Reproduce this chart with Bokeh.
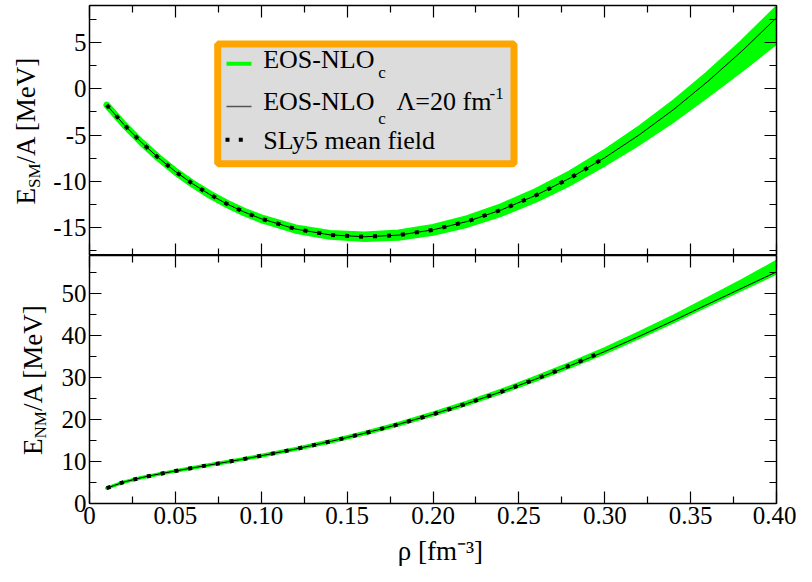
import math
from bokeh.plotting import figure
from bokeh.layouts import column, row
from bokeh.models import (Range1d, LinearAxis, FixedTicker, BoxAnnotation, Label,
                          CustomJSTickFormatter)
from bokeh.core.properties import value
from bokeh.embed import file_html
from bokeh.resources import INLINE

# ---------------- data ----------------
rho = [0.01, 0.02, 0.03, 0.04, 0.05, 0.06, 0.07, 0.08, 0.09, 0.10,
       0.12, 0.14, 0.16, 0.18, 0.20, 0.22, 0.24, 0.26, 0.28, 0.30,
       0.32, 0.34, 0.36, 0.38, 0.40]

# symmetric matter, EOS-NLOc Lambda=20 fm^-1 (black line)
esm_nlo = [-1.75, -3.85, -5.74, -7.43, -8.93, -10.25, -11.41, -12.43, -13.30, -14.03,
           -15.14, -15.77, -15.98, -15.80, -15.23, -14.32, -13.06, -11.49, -9.62, -7.44,
           -4.98, -2.25, 0.80, 4.10, 7.68]
# EOS-NLOc band (green)
esm_hi = [-1.70, -3.79, -5.66, -7.34, -8.83, -10.14, -11.29, -12.30, -13.16, -13.88,
          -14.96, -15.56, -15.73, -15.52, -14.91, -13.96, -12.65, -11.03, -9.10, -6.84,
          -4.32, -1.53, 1.58, 4.95, 8.60]
esm_lo = [-1.80, -3.91, -5.82, -7.52, -9.03, -10.36, -11.53, -12.56, -13.44, -14.18,
          -15.32, -15.98, -16.23, -16.08, -15.55, -14.68, -13.47, -11.95, -10.14, -8.04,
          -5.78, -3.30, -0.60, 2.20, 5.13]

# SLy5 mean field (dotted), up to rho = 0.30
rho_sly5 = [0.01, 0.02, 0.03, 0.04, 0.05, 0.06, 0.07, 0.08, 0.09, 0.10,
            0.12, 0.14, 0.16, 0.18, 0.20, 0.22, 0.24, 0.26, 0.28, 0.30]
esm_sly5 = [-1.75, -3.85, -5.74, -7.43, -8.93, -10.25, -11.41, -12.43, -13.30, -14.03,
            -15.14, -15.77, -15.98, -15.80, -15.23, -14.32, -13.06, -11.49, -9.62, -7.44]

# neutron matter
enm_nlo = [3.65, 5.10, 6.13, 6.98, 7.74, 8.46, 9.17, 9.87, 10.60, 11.35,
           12.96, 14.73, 16.69, 18.85, 21.22, 23.81, 26.61, 29.62, 32.80, 36.15,
           39.75, 43.50, 47.40, 51.25, 55.10]
enm_hi = [3.70, 5.15, 6.19, 7.05, 7.82, 8.55, 9.27, 9.98, 10.72, 11.48,
          13.12, 14.92, 16.91, 19.11, 21.52, 24.17, 27.03, 30.12, 33.40, 36.87,
          40.65, 44.60, 48.80, 53.10, 57.60]
enm_lo = [3.60, 5.05, 6.07, 6.91, 7.66, 8.37, 9.07, 9.77, 10.50, 11.25,
          12.84, 14.59, 16.53, 18.67, 21.02, 23.59, 26.37, 29.36, 32.52, 35.85,
          39.45, 43.20, 47.10, 50.95, 54.80]
enm_sly5 = [3.65, 5.10, 6.13, 6.98, 7.74, 8.46, 9.17, 9.87, 10.60, 11.35,
            12.96, 14.73, 16.69, 18.85, 21.22, 23.81, 26.61, 29.62, 32.86, 36.32]

# ticks
x_ticks = [0.0, 0.05, 0.10, 0.15, 0.20, 0.25, 0.30, 0.35, 0.40]
x_tick_labels = ["0", "0.05", "0.10", "0.15", "0.20", "0.25", "0.30", "0.35", "0.40"]
x_minor = [0.025, 0.075, 0.125, 0.175, 0.225, 0.275, 0.325, 0.375]
ysm_ticks = [-15, -10, -5, 0, 5]
ysm_minor = [-17.5, -12.5, -7.5, -2.5, 2.5, 7.5]
ynm_ticks = [0, 10, 20, 30, 40, 50]
ynm_minor = [5, 15, 25, 35, 45, 55]

# ---------------- styling / layout ----------------
FONT = "Liberation Serif"
GREEN = "#00ff00"
TOTAL_W, TOTAL_H = 796, 566
STRIP_W = 50                      # strip holding the vertical axis titles
PW = TOTAL_W - STRIP_W            # width of the two panels
FL, FW = 38, 687                  # frame left border and frame width
TOP_B, TOP_H = 5, 250             # panel 1: top border, frame height
BOT_H, BOT_B = 248, 32            # panel 2: frame height, bottom border
XSTRIP_H = TOTAL_H - (TOP_B + TOP_H) - (BOT_H + BOT_B)
TICK_PX = "25px"
MID = 0.3375                      # baseline offset below a text's middle, in em


def make_axis(ticker, labels, formatter=None):
    ax = LinearAxis(ticker=ticker)
    ax.axis_line_color = "black"
    ax.axis_line_width = 1.5
    ax.major_tick_in = 12
    ax.major_tick_out = 0
    ax.minor_tick_in = 7
    ax.minor_tick_out = 0
    ax.major_tick_line_color = "black"
    ax.minor_tick_line_color = "black"
    ax.major_tick_line_width = 1.2
    ax.minor_tick_line_width = 1.2
    if labels:
        ax.formatter = formatter
        ax.major_label_text_font = FONT
        ax.major_label_text_font_size = TICK_PX
        ax.major_label_text_color = "black"
        ax.major_label_standoff = 3
    else:
        ax.formatter = CustomJSTickFormatter(code="return ''")
        ax.major_label_text_font_size = "0px"
        ax.major_label_standoff = 0
    return ax


def make_panel(yr, frame_h, top_b, bot_b):
    p = figure(frame_width=FW, frame_height=frame_h,
               x_range=Range1d(0, 0.4), y_range=yr,
               x_axis_location=None, y_axis_location=None,
               output_backend="svg", toolbar_location=None,
               min_border_left=FL, min_border_right=PW - FL - FW,
               min_border_top=top_b, min_border_bottom=bot_b)
    p.grid.visible = False
    p.outline_line_color = "black"
    p.background_fill_color = "white"
    p.border_fill_color = "white"
    return p


def make_strip(w, h):
    s = figure(width=w, height=h, x_range=Range1d(0, w), y_range=Range1d(0, h),
               x_axis_location=None, y_axis_location=None,
               output_backend="svg", toolbar_location=None,
               min_border_left=0, min_border_right=0,
               min_border_top=0, min_border_bottom=0)
    s.grid.visible = False
    s.outline_line_color = None
    s.background_fill_color = "white"
    s.border_fill_color = "white"
    return s


def put_text(s, x, y, txt, size_px, vertical=False, align="left"):
    """x, y: text anchor on its baseline (strip pixels, y up)."""
    off = MID * size_px
    if vertical:
        ax_, ay_, ang = x - off, y, math.pi / 2
    else:
        ax_, ay_, ang = x, y + off, 0.0
    s.text(x=[ax_], y=[ay_], text=[txt], angle=ang,
           text_font=value(FONT), text_font_size=value(f"{size_px}px"),
           text_color="black", text_align=align, text_baseline="middle")


def legend_label(p, txt, x, y, size_px):
    """x, y: start of the text on its baseline (frame pixels, y up)."""
    p.add_layout(Label(x=x, y=y + MID * size_px, x_units="screen", y_units="screen",
                       text=txt, text_font=FONT, text_font_size=f"{size_px}px",
                       text_color="black", text_align="left", text_baseline="middle"))


def screen_box(p, l, r, b, t, fill, line=None, lw=0):
    p.add_layout(BoxAnnotation(left=l, right=r, bottom=b, top=t,
                               left_units="screen", right_units="screen",
                               top_units="screen", bottom_units="screen",
                               fill_color=fill, fill_alpha=1.0,
                               line_color=line, line_alpha=1.0 if line else 0.0,
                               line_width=lw))


xfmt = CustomJSTickFormatter(args=dict(vals=x_ticks, labs=x_tick_labels), code="""
const i = vals.findIndex(v => Math.abs(v - tick) < 1e-9);
return i >= 0 ? labs[i] : '';
""")
yfmt1 = CustomJSTickFormatter(code="return String(tick);")
yfmt2 = CustomJSTickFormatter(code="return String(tick);")

# ---------------- top panel: symmetric matter ----------------
p1 = make_panel(Range1d(-18, 9), TOP_H, TOP_B, 0)
xt1 = FixedTicker(ticks=x_ticks, minor_ticks=x_minor)
yt1 = FixedTicker(ticks=ysm_ticks, minor_ticks=ysm_minor)
p1.add_layout(make_axis(yt1, True, yfmt1), "left")
p1.add_layout(make_axis(yt1, False), "right")
p1.add_layout(make_axis(xt1, False), "above")
p1.add_layout(make_axis(xt1, False), "below")

p1.varea(x=rho, y1=esm_lo, y2=esm_hi, fill_color=GREEN)
p1.line(rho, esm_hi, line_color=GREEN, line_width=6, line_cap="round", line_join="round")
p1.line(rho, esm_lo, line_color=GREEN, line_width=6, line_cap="round", line_join="round")
p1.line(rho, esm_nlo, line_color="black", line_width=1)
p1.line(rho_sly5, esm_sly5, line_color="black", line_width=4, line_dash="4 10")

# legend (frame-relative screen pixels)
screen_box(p1, 128.2, 424.5, 91.8, 211.5, "#dcdcdc", "#ffa500", 7)
screen_box(p1, 137, 162, 189.7, 193.7, GREEN)
screen_box(p1, 137, 162, 148.2, 149.8, "#555555")
for lx in (136.0, 149.3):
    screen_box(p1, lx, lx + 4, 113.7, 117.7, "black")
legend_label(p1, "EOS-NLO", 173.7, 187.7, 26)
legend_label(p1, "c", 288.7, 177, 17)
legend_label(p1, "EOS-NLO", 173.7, 145, 26)
legend_label(p1, "c", 288.7, 131.7, 17)
legend_label(p1, "\u039b=20 fm", 307, 145, 26)
legend_label(p1, "-1", 400, 156.7, 17)
legend_label(p1, "SLy5 mean field", 173.7, 106.7, 26)

# ---------------- bottom panel: neutron matter ----------------
p2 = make_panel(Range1d(0, 59), BOT_H, 0, BOT_B)
xt2 = FixedTicker(ticks=x_ticks, minor_ticks=x_minor)
yt2 = FixedTicker(ticks=ynm_ticks, minor_ticks=ynm_minor)
p2.add_layout(make_axis(yt2, True, yfmt2), "left")
p2.add_layout(make_axis(yt2, False), "right")
p2.add_layout(make_axis(xt2, False), "above")
p2.add_layout(make_axis(xt2, True, xfmt), "below")

p2.varea(x=rho, y1=enm_lo, y2=enm_hi, fill_color=GREEN)
p2.line(rho, enm_hi, line_color=GREEN, line_width=3, line_cap="round", line_join="round")
p2.line(rho, enm_lo, line_color=GREEN, line_width=3, line_cap="round", line_join="round")
p2.line(rho, enm_nlo, line_color="black", line_width=1)
p2.line(rho_sly5, enm_sly5, line_color="black", line_width=4, line_dash="4 10")

# ---------------- axis titles (text in side strips) ----------------
ys = make_strip(STRIP_W, TOTAL_H)
put_text(ys, 35, 362, "E", 27, True)
put_text(ys, 40, 378.5, "SM", 17, True)
put_text(ys, 35, 403, "/A [MeV]", 27, True)
put_text(ys, 42, 111.5, "E", 27, True)
put_text(ys, 46, 128, "NM", 17, True)
put_text(ys, 42, 155.4, "/A [MeV]", 27, True)

xs = make_strip(PW, XSTRIP_H)
put_text(xs, FL + FW / 2, 6.5, "\u03c1 [fm\u207b\u00b3]", 27, align="center")

layout = row(ys, column(p1, p2, xs, spacing=0), spacing=0)
open("out.html", "w").write(file_html(layout, INLINE))
